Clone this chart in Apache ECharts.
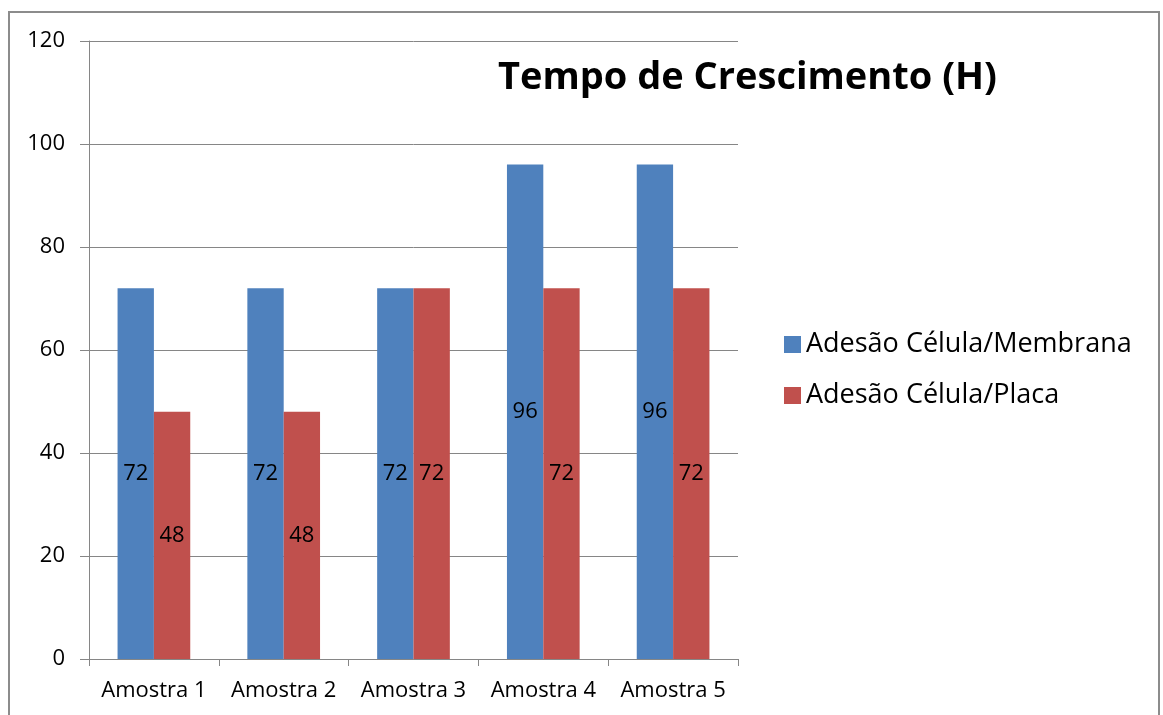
<!DOCTYPE html>
<html>
<head>
  <meta charset="utf-8" />
  <title>Tempo de Crescimento</title>
  <script src="https://cdn.jsdelivr.net/npm/echarts@6/dist/echarts.min.js"></script>
  <style>
    html, body { margin: 0; padding: 0; background: #fff; }
    #frame { position: absolute; left: 8px; top: 11px; width: 1152px; height: 720px; border: 2px solid #8c8c8c; box-sizing: border-box; }
    #main { position: absolute; left: 0; top: 0; width: 1163px; height: 715px; }
  </style>
</head>
<body>
  <div id="frame"></div>
  <div id="main"></div>
  <script>
    const categories = ["Amostra 1", "Amostra 2", "Amostra 3", "Amostra 4", "Amostra 5"];
    const membrana = [72, 72, 72, 96, 96];
    const placa = [48, 48, 72, 72, 72];
    const seriesNames = ["Adesão Célula/Membrana", "Adesão Célula/Placa"];

    const font = "Open Sans";

    const option = {
      animation: false,
      title: {
        text: "Tempo de Crescimento (H)",
        left: 493,
        top: 54,
        textStyle: { fontFamily: font, fontSize: 38, fontWeight: "bold", color: "#000" },
      },
      legend: {
        orient: "vertical",
        left: 779,
        top: 326,
        itemWidth: 17,
        itemHeight: 17,
        itemGap: 24,
        icon: "rect",
        textStyle: { fontFamily: font, fontSize: 27, color: "#000" },
        data: seriesNames,
      },
      grid: { left: 89, top: 41, width: 649, height: 618 },
      xAxis: {
        type: "category",
        data: categories,
        axisLine: { lineStyle: { color: "#868686", width: 1 } },
        axisTick: { show: true, interval: 0, length: 7, lineStyle: { color: "#868686" } },
        axisLabel: { interval: 0, fontFamily: font, fontSize: 22, color: "#000", margin: 21 },
      },
      yAxis: {
        type: "value",
        min: 0,
        max: 120,
        interval: 20,
        axisLine: { show: true, lineStyle: { color: "#868686", width: 1 } },
        axisTick: { show: true, length: 9, lineStyle: { color: "#868686" } },
        axisLabel: { fontFamily: font, fontSize: 22, color: "#000", margin: 24 },
        splitLine: { lineStyle: { color: "#868686", width: 1 } },
      },
      series: [
        {
          name: seriesNames[0],
          type: "bar",
          data: membrana,
          barGap: "0%",
          barCategoryGap: "44%",
          itemStyle: { color: "#4F81BD" },
          label: { show: true, position: "inside", fontFamily: font, fontSize: 22, color: "#000" },
        },
        {
          name: seriesNames[1],
          type: "bar",
          data: placa,
          barGap: "0%",
          barCategoryGap: "44%",
          itemStyle: { color: "#C0504D" },
          label: { show: true, position: "inside", fontFamily: font, fontSize: 22, color: "#000" },
        },
      ],
    };

    const chart = echarts.init(document.getElementById("main"));
    chart.setOption(option);
  </script>
</body>
</html>
